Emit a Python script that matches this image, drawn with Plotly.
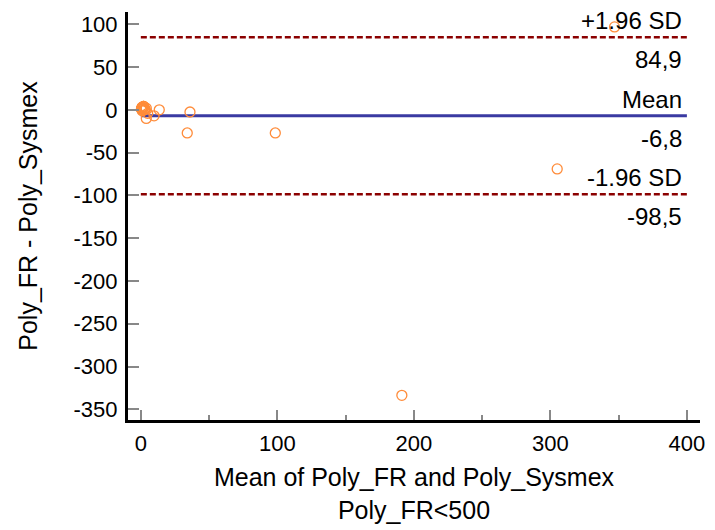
import plotly.graph_objects as go

# Data: mean of the two methods (x) and difference (y)
mean_vals = [0.5, 1.0, 1.5, 2.0, 2.5, 3.0, 1.0, 4.0, 5.0, 4.0, 9.7, 13.5, 36.0, 34.0, 98.5, 191.2, 305.0, 347.0,
             0.5, 1.0, 1.5, 2.0, 2.5, 3.0, 0.5, 1.0, 1.5, 2.0]
diff_vals = [1.0, 3.0, 2.0, 4.0, 0.0, 1.0, -1.0, 2.0, -4.0, -10.0, -7.0, 0.0, -2.5, -27.0, -27.0, -333.7, -69.0, 97.0,
             1.0, 3.0, 2.0, 4.0, 0.0, 1.0, 1.0, 3.0, 2.0, 4.0]

mean_diff = -6.8
upper_loa = 84.9
lower_loa = -98.5
line_x = [0, 400]

x_ticks = [0, 100, 200, 300, 400]
y_ticks = [100, 50, 0, -50, -100, -150, -200, -250, -300, -350]

FONT = "Arial, Liberation Sans, sans-serif"
FS_TICK = 22
FS_ANN = 24
FS_TITLE = 25

fig = go.Figure()

fig.add_trace(go.Scatter(
    x=line_x, y=[upper_loa, upper_loa], mode="lines",
    line=dict(color="#8B0000", width=2.5, dash="6px,3px"), hoverinfo="skip"))
fig.add_trace(go.Scatter(
    x=line_x, y=[lower_loa, lower_loa], mode="lines",
    line=dict(color="#8B0000", width=2.5, dash="6px,3px"), hoverinfo="skip"))
fig.add_trace(go.Scatter(
    x=line_x, y=[mean_diff, mean_diff], mode="lines",
    line=dict(color="#3A3AA2", width=3), hoverinfo="skip"))

fig.add_trace(go.Scatter(
    x=mean_vals, y=diff_vals, mode="markers",
    marker=dict(symbol="circle-open", size=10, color="#FF8C3A", line=dict(width=1.3, color="#FF8C3A"))))

labels = [
    (upper_loa, "+1.96 SD", "{:.1f}".format(upper_loa).replace(".", ",")),
    (mean_diff, "Mean", "{:.1f}".format(mean_diff).replace(".", ",")),
    (lower_loa, "-1.96 SD", "{:.1f}".format(lower_loa).replace(".", ",")),
]
for yv, above, below in labels:
    fig.add_annotation(x=line_x[1], y=yv, text=above, showarrow=False,
                       xanchor="right", yanchor="bottom", xshift=-3, yshift=1,
                       font=dict(size=FS_ANN, color="black", family=FONT))
    fig.add_annotation(x=line_x[1], y=yv, text=below, showarrow=False,
                       xanchor="right", yanchor="top", xshift=-3, yshift=-7,
                       font=dict(size=FS_ANN, color="black", family=FONT))

fig.update_layout(
    width=715, height=530,
    margin=dict(l=128, r=10, t=12, b=109),
    plot_bgcolor="white", paper_bgcolor="white",
    showlegend=False,
    font=dict(family=FONT, size=FS_TICK, color="black"),
)

fig.update_xaxes(
    range=[-9.4, 409.6], tickvals=x_ticks, ticktext=[str(v) for v in x_ticks],
    showgrid=False, zeroline=False,
    showline=True, linecolor="black", linewidth=3,
    ticks="inside", ticklen=10, tickcolor="#888888", tickwidth=1.5,
    minor=dict(dtick=50, tick0=0, ticks="inside", ticklen=5, tickcolor="#888888", tickwidth=1.5, showgrid=False),
    ticklabelstandoff=2,
    title=dict(text="Mean of Poly_FR and Poly_Sysmex<br>Poly_FR<500", font=dict(size=FS_TITLE), standoff=14),
)
fig.update_yaxes(
    range=[-362.5, 114.4], tickvals=y_ticks, ticktext=[str(v) for v in y_ticks],
    showgrid=False, zeroline=False,
    showline=True, linecolor="black", linewidth=3,
    ticks="inside", ticklen=11, tickcolor="#888888", tickwidth=1.5,
    ticklabelstandoff=3,
    title=dict(text="Poly_FR - Poly_Sysmex", font=dict(size=FS_TITLE), standoff=29),
)

fig.write_html("out.html")
